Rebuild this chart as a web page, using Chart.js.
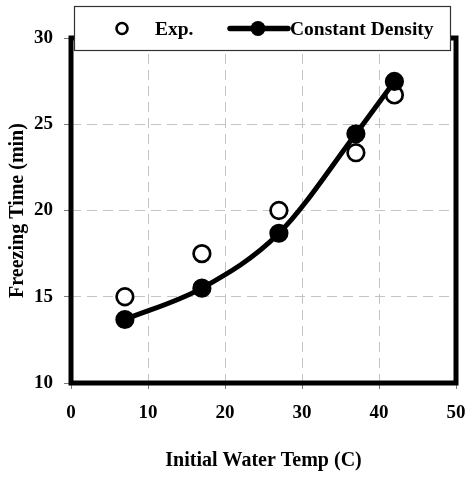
<!DOCTYPE html>
<html>
<head>
<meta charset="utf-8">
<script src="https://cdn.jsdelivr.net/npm/chart.js@4/dist/chart.umd.min.js"></script>
<style>
  html, body { margin: 0; padding: 0; background: #ffffff; }
  #wrap { width: 469px; height: 477px; }
</style>
</head>
<body>
<div id="wrap"><canvas id="c" width="469" height="477"></canvas></div>
<script>
// Initial water temperature (C)
const temps = [7, 17, 27, 37, 42];
// Measured freezing times (min)
const expTimes = [15.0, 17.5, 20.0, 23.35, 26.7];
// Model prediction, constant density (min)
const densityTimes = [13.68, 15.5, 18.68, 24.45, 27.48];
// Axis ranges and steps
const xRange = [0, 50, 10];
const yRange = [10, 30, 5];
const seriesNames = ['Exp.', 'Constant Density'];

const serif = "'Liberation Serif', 'Times New Roman', serif";
const toPoints = (xs, ys) => xs.map((x, i) => ({ x: x, y: ys[i] }));

// Thick black frame round the plotting area
const framePlugin = {
  id: 'frame',
  beforeDatasetsDraw(chart) {
    const { ctx, chartArea: a } = chart;
    ctx.save();
    ctx.strokeStyle = '#000';
    ctx.lineWidth = 5;
    ctx.strokeRect(a.left, a.top, a.right - a.left, a.bottom - a.top);
    ctx.restore();
  }
};

// Boxed legend laid over the top edge of the plot
const boxLegendPlugin = {
  id: 'boxLegend',
  afterDraw(chart) {
    const { ctx, chartArea: a } = chart;
    const left = a.left + 3, right = a.right - 5, top = 6, bottom = 51;
    const cy = (top + bottom) / 2;
    ctx.save();
    ctx.fillStyle = '#fff';
    ctx.fillRect(left, top, right - left, bottom - top);
    ctx.strokeStyle = '#333';
    ctx.lineWidth = 1.2;
    ctx.strokeRect(left + 0.5, top + 0.5, right - left - 1, bottom - top - 1);

    ctx.font = 'bold 19.5px ' + serif;
    ctx.textBaseline = 'middle';
    ctx.fillStyle = '#000';

    // open-circle entry
    ctx.beginPath();
    ctx.arc(left + 48, cy, 5.5, 0, Math.PI * 2);
    ctx.fillStyle = '#fff';
    ctx.fill();
    ctx.lineWidth = 2.6;
    ctx.strokeStyle = '#000';
    ctx.stroke();
    ctx.fillStyle = '#000';
    ctx.fillText(seriesNames[0], left + 81, cy + 1);

    // line-with-dot entry
    ctx.beginPath();
    ctx.moveTo(left + 156, cy);
    ctx.lineTo(left + 214, cy);
    ctx.lineWidth = 5.5;
    ctx.lineCap = 'round';
    ctx.stroke();
    ctx.beginPath();
    ctx.arc(left + 184, cy, 7.5, 0, Math.PI * 2);
    ctx.fill();
    ctx.fillText(seriesNames[1], left + 216, cy + 1);
    ctx.restore();
  }
};

const tickFont = { family: serif, size: 19, weight: 'bold' };
const titleFont = { family: serif, size: 20, weight: 'bold' };

new Chart(document.getElementById('c'), {
  type: 'scatter',
  data: {
    datasets: [
      {
        label: seriesNames[0],
        data: toPoints(temps, expTimes),
        showLine: false,
        pointRadius: 8.3,
        pointHoverRadius: 8.3,
        pointBorderWidth: 2.7,
        pointBackgroundColor: '#fff',
        pointBorderColor: '#000',
        order: 1
      },
      {
        label: seriesNames[1],
        data: toPoints(temps, densityTimes),
        showLine: true,
        borderColor: '#000',
        borderWidth: 5,
        cubicInterpolationMode: 'monotone',
        pointRadius: 8.6,
        pointHoverRadius: 8.6,
        pointBorderWidth: 2,
        pointBackgroundColor: '#000',
        pointBorderColor: '#000',
        order: 0
      }
    ]
  },
  options: {
    responsive: false,
    animation: false,
    events: [],
    layout: { padding: { left: 0, right: 13, top: 38, bottom: 0 } },
    plugins: {
      legend: { display: false },
      tooltip: { enabled: false }
    },
    scales: {
      x: {
        type: 'linear',
        min: xRange[0], max: xRange[1],
        afterFit(scale) {
          scale.height = 94;
          scale.paddingLeft = 0;
          scale.paddingRight = 0;
        },
        ticks: { stepSize: xRange[2], font: tickFont, color: '#000', padding: 13 },
        grid: { color: '#c4c4c4', lineWidth: 1, tickColor: '#7a7a7a', tickLength: 6, tickWidth: 1, tickBorderDash: [] },
        border: { display: false, dash: [10, 6] },
        title: {
          display: true, text: 'Initial Water Temp (C)', color: '#000',
          font: titleFont,
          padding: { top: 0, bottom: 4 }
        }
      },
      y: {
        type: 'linear',
        min: yRange[0], max: yRange[1],
        afterFit(scale) {
          scale.width = 71;
          scale.paddingTop = 0;
          scale.paddingBottom = 0;
        },
        ticks: { stepSize: yRange[2], font: tickFont, color: '#000', padding: 11 },
        grid: { color: '#c4c4c4', lineWidth: 1, tickColor: '#7a7a7a', tickLength: 7, tickWidth: 1, tickBorderDash: [] },
        border: { display: false, dash: [10, 6] },
        title: {
          display: true, text: 'Freezing Time (min)', color: '#000',
          font: titleFont,
          padding: { top: 6, bottom: 0 }
        }
      }
    }
  },
  plugins: [framePlugin, boxLegendPlugin]
});
</script>
</body>
</html>
